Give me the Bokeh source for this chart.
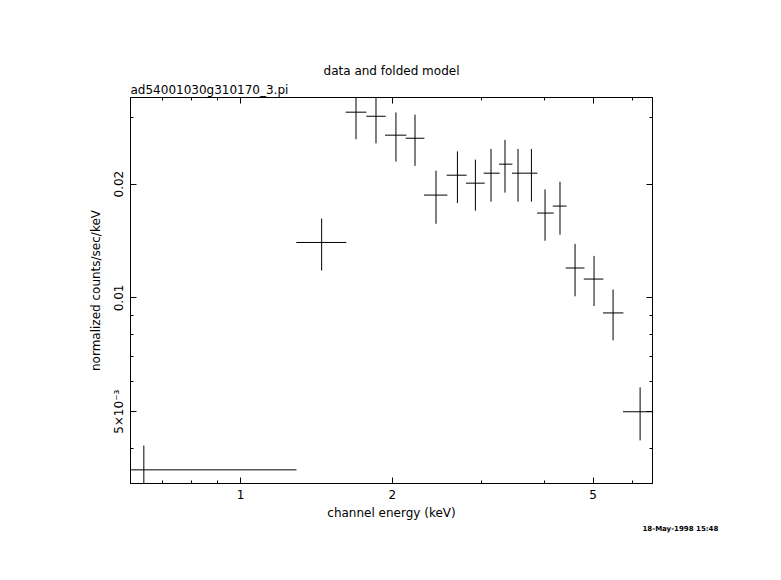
from bokeh.plotting import figure
from bokeh.models import LogAxis, FixedTicker, Title, BasicTickFormatter, ColumnDataSource
from bokeh.embed import file_html
from bokeh.resources import INLINE

# channel energy (keV): bin centre and bin edges
energy = [0.643, 1.448, 1.694, 1.856, 2.033, 2.218, 2.441, 2.692, 2.922, 3.138,
          3.345, 3.550, 3.774, 4.016, 4.300, 4.606, 5.023, 5.479, 6.199]
energy_lo = [0.30, 1.290, 1.616, 1.776, 1.934, 2.125, 2.311, 2.563, 2.799, 3.035,
             3.254, 3.453, 3.661, 3.873, 4.160, 4.414, 4.793, 5.234, 5.734]
energy_hi = [1.291, 1.621, 1.776, 1.940, 2.132, 2.315, 2.571, 2.808, 3.049, 3.265,
             3.460, 3.661, 3.879, 4.178, 4.430, 4.808, 5.244, 5.744, 6.664]
# normalized counts/sec/keV and 1-sigma error
rate = [0.00351, 0.01402, 0.0310, 0.03024, 0.02695, 0.02645, 0.01871, 0.02112, 0.02012, 0.02138,
        0.02259, 0.02138, 0.02138, 0.01677, 0.0175, 0.0120, 0.01122, 0.009128, 0.0050]
rate_err = [0.00056, 0.0022, 0.0047, 0.0046, 0.0040, 0.0041, 0.0030, 0.0033, 0.0031, 0.0034,
            0.0036, 0.0034, 0.0034, 0.0026, 0.0028, 0.0019, 0.0017, 0.0014, 0.0008]

x_major = [1, 2, 5]
x_minor = [0.7, 0.8, 0.9, 3, 4, 6]
x_labels = {1: "1", 2: "2", 5: "5"}
y_major = [0.005, 0.01, 0.02]
y_minor = [0.004, 0.006, 0.007, 0.008, 0.009, 0.03]
y_labels = {0.005: "5×10⁻³", 0.01: "0.01", 0.02: "0.02"}

FONT = "DejaVu Sans"

src = ColumnDataSource(dict(
    e=energy, elo=energy_lo, ehi=energy_hi, r=rate,
    rlo=[r - d for r, d in zip(rate, rate_err)],
    rhi=[r + d for r, d in zip(rate, rate_err)],
))

p = figure(width=773, height=572, x_axis_type="log", y_axis_type="log",
           x_range=(0.605, 6.56), y_range=(0.00323, 0.0339),
           output_backend="svg", toolbar_location=None, title=None,
           min_border_left=130, min_border_right=121, min_border_top=97, min_border_bottom=89)
p.grid.visible = False
p.outline_line_color = "black"
p.outline_line_width = 1
p.background_fill_color = "white"
p.border_fill_color = "white"

p.segment(x0="elo", y0="r", x1="ehi", y1="r", source=src, line_color="black", line_width=1)
p.segment(x0="e", y0="rlo", x1="e", y1="rhi", source=src, line_color="black", line_width=1)


def style(ax, ticks, minor, labels):
    ax.ticker = FixedTicker(ticks=ticks, minor_ticks=minor)
    ax.formatter = BasicTickFormatter()
    ax.major_label_overrides = labels
    ax.major_tick_in = 6
    ax.major_tick_out = 0
    ax.minor_tick_in = 3
    ax.minor_tick_out = 0
    ax.axis_line_color = "black"
    ax.major_tick_line_color = "black"
    ax.minor_tick_line_color = "black"
    ax.major_label_text_font = FONT
    ax.major_label_text_font_size = "12px"
    ax.major_label_text_color = "black"
    ax.axis_label_text_font = FONT
    ax.axis_label_text_font_size = "12px"
    ax.axis_label_text_font_style = "normal"
    ax.axis_label_text_color = "black"


xb = p.xaxis[0]
yl = p.yaxis[0]
style(xb, x_major, x_minor, x_labels)
style(yl, y_major, y_minor, y_labels)
xb.axis_label = "channel energy (keV)"
xb.major_label_standoff = 6
xb.axis_label_standoff = 4
yl.axis_label = "normalized counts/sec/keV"
yl.major_label_orientation = "vertical"
yl.major_label_standoff = 4
yl.axis_label_standoff = 7

xt = LogAxis()
style(xt, x_major, x_minor, {t: "" for t in x_major})
xt.major_label_standoff = 0
p.add_layout(xt, "above")
yr = LogAxis()
style(yr, y_major, y_minor, {t: "" for t in y_major})
yr.major_label_standoff = 0
p.add_layout(yr, "right")

p.add_layout(Title(text="ad54001030g310170_3.pi", align="left", text_font=FONT,
                   text_font_size="12px", text_font_style="normal", text_color="black",
                   standoff=2), "above")
p.add_layout(Title(text="data and folded model", align="center", text_font=FONT,
                   text_font_size="12px", text_font_style="normal", text_color="black",
                   standoff=4), "above")
p.add_layout(Title(text="18-May-1998 15:48", align="left", offset=512, text_font=FONT,
                   text_font_size="7px", text_font_style="bold", text_color="black",
                   standoff=0), "below")

open("out.html", "w").write(file_html(p, INLINE))
